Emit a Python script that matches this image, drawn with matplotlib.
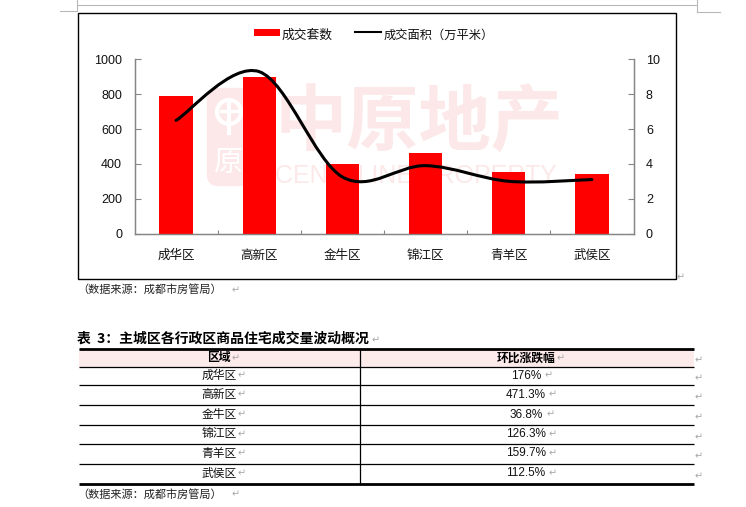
import numpy as np
import matplotlib
matplotlib.use("Agg")
import matplotlib.pyplot as plt
from matplotlib.path import Path
from matplotlib.patches import PathPatch, FancyBboxPatch, Rectangle, Circle

plt.rcParams['font.family'] = ['Liberation Sans', 'Noto Sans CJK SC', 'DejaVu Sans']

districts = ['成华区', '高新区', '金牛区', '锦江区', '青羊区', '武侯区']
units_sold = [790, 900, 400, 460, 355, 340]
area_sold = [6.5, 9.3, 3.25, 3.9, 3.0, 3.1]
y_left_ticks = [0, 200, 400, 600, 800, 1000]
y_right_ticks = [0, 2, 4, 6, 8, 10]
table_title = '表  3：主城区各行政区商品住宅成交量波动概况'
table_header = ['区域', '环比涨跌幅']
table_change = ['176%', '471.3%', '36.8%', '126.3%', '159.7%', '112.5%']
source_note = '（数据来源：成都市房管局）'
legend_bar = '成交套数'
legend_line = '成交面积（万平米）'
watermark_cn = '中原地产'
watermark_en = 'CENTALINE PROPERTY'

W, H = 746, 507
fig = plt.figure(figsize=(W / 100, H / 100), dpi=100, facecolor='white')

page = fig.add_axes([0, 0, 1, 1], zorder=0)
page.set_xlim(0, W)
page.set_ylim(H, 0)
page.axis('off')

RET = dict(color='#a8a8a8', fontsize=7, family='DejaVu Sans', va='center', ha='left')
GREY = '#b8b8b8'
CJK = 'Noto Sans CJK SC'

# page-corner marks
page.plot([76.5, 76.5], [0, 11], color=GREY, lw=0.8)
page.plot([60, 76.5], [11, 11], color=GREY, lw=0.8)
page.plot([76.5, 696], [4.5, 4.5], color=GREY, lw=0.8)
page.plot([696.5, 696.5], [0, 12], color=GREY, lw=0.8)
page.plot([696.5, 720], [12, 12], color=GREY, lw=0.8)

# chart frame
page.add_patch(Rectangle((77.5, 12.5), 598, 266, fc='white', ec='black', lw=1.0, zorder=1))

# watermark
WM = '#fce8e8'
page.add_patch(FancyBboxPatch((211, 92), 56, 90, boxstyle='round,pad=0,rounding_size=7',
                              fc=WM, ec=WM, lw=6, zorder=2))
page.add_patch(Circle((229, 112), 12, fc='none', ec='white', lw=3, zorder=3))
page.plot([229, 229], [100, 133], color='white', lw=3, zorder=3)
page.plot([221, 237], [111, 111], color='white', lw=2.5, zorder=3)
page.text(229, 163, '原', color='white', fontsize=21, ha='center', va='center',
          family=CJK, zorder=3)
page.text(419.5, 124, watermark_cn, color=WM, fontsize=52, fontweight='bold', ha='center', va='center',
          family=CJK, zorder=2)
page.text(416, 176, watermark_en, color=WM, fontsize=18, ha='center', va='center',
          family='Liberation Sans', zorder=2)

# chart axes
L, R, T, B = 134.5, 633.5, 59.5, 233.5
ax = fig.add_axes([L / W, 1 - B / H, (R - L) / W, (B - T) / H], zorder=2)
ax.patch.set_alpha(0)
x = np.arange(len(districts))
bars = ax.bar(x, units_sold, width=0.4, color='#ff0000', label=legend_bar, zorder=3)
ax.set_xlim(-0.5, len(districts) - 0.5)
ax.set_ylim(0, 1000)
ax.set_yticks(y_left_ticks)
ax.set_xticks(x[:-1] + 0.5)
ax.set_xticklabels([])
ax.tick_params(axis='x', direction='in', length=3, width=0.8, color='#868686')
ax.tick_params(axis='y', direction='in', length=4, width=0.8, color='#868686', labelsize=9, pad=9, labelcolor='#111111')
for s in ax.spines.values():
    s.set_color('#868686')
    s.set_linewidth(0.9)
ax.spines['top'].set_visible(False)
for xi, name in zip(x, districts):
    ax.annotate(name, (xi, 0), xytext=(0, -16), textcoords='offset points', xycoords='data',
                ha='center', va='center', fontsize=9, family=CJK, color='#111111')

ax2 = ax.twinx()
ax2.patch.set_alpha(0)
ax2.set_ylim(0, 10)
ax2.set_yticks(y_right_ticks)
ax2.tick_params(axis='y', direction='in', length=4, width=0.8, color='#868686', labelsize=9, pad=9, labelcolor='#111111')
for s in ax2.spines.values():
    s.set_color('#868686')
    s.set_linewidth(0.9)
ax2.spines['top'].set_visible(False)

# smoothed line (Catmull-Rom style Bezier through the data points)
pts = np.column_stack([x, area_sold]).astype(float)
verts = [pts[0]]
codes = [Path.MOVETO]
for i in range(len(pts) - 1):
    p0 = pts[max(i - 1, 0)]
    p1, p2 = pts[i], pts[i + 1]
    p3 = pts[min(i + 2, len(pts) - 1)]
    verts += [p1 + (p2 - p0) / 6, p2 - (p3 - p1) / 6, p2]
    codes += [Path.CURVE4] * 3
ax2.add_patch(PathPatch(Path(verts, codes), fc='none', ec='black', lw=2.2, capstyle='round', zorder=5))

# legend drawn on page
page.add_patch(Rectangle((254, 29), 26, 6.5, fc='#ff0000', ec='none', zorder=2))
page.plot([354.5, 381], [31.5, 31.5], color='black', lw=1.5, zorder=2)
page.text(282, 35, legend_bar, fontsize=9.2, family=CJK, va='center', ha='left', color='#111111', zorder=2)
page.text(384, 35, legend_line, fontsize=8.8, family=CJK, va='center', ha='left', color='#111111', zorder=2)
page.text(677, 277.5, '↵', **RET)

# source notes
page.text(77, 289.5, source_note, fontsize=8, family=CJK, va='center', ha='left', color='#222222')
page.text(232, 290, '↵', **RET)
page.text(77, 494, source_note, fontsize=8, family=CJK, va='center', ha='left', color='#222222')
page.text(232, 494.5, '↵', **RET)

# table
page.text(77, 339, table_title, fontsize=10, fontweight='bold', family=CJK, va='center', ha='left', color='black')
page.text(372, 340, '↵', **RET)

row_y = [349, 367, 384.5, 404.5, 424.5, 443.5, 463.5, 483.5]
x0, xm, x1 = 79, 359.5, 693.5
page.add_patch(Rectangle((x0, row_y[0]), x1 - x0, row_y[1] - row_y[0], fc='#fdeaea', ec='none'))
page.plot([xm, xm], [row_y[0], row_y[-1]], color='black', lw=0.9)
for i, y in enumerate(row_y):
    lw = 2.0 if i in (0, len(row_y) - 1) else 0.9
    page.plot([x0, x1], [y, y], color='black', lw=lw, solid_capstyle='butt')

cx1, cx2 = 219, 526
page.text(cx1, 358, table_header[0], fontsize=8.5, fontweight='bold', family=CJK, ha='center', va='center', color='black')
page.text(cx1 + 13, 358.5, '↵', **RET)
page.text(cx2, 358, table_header[1], fontsize=8.5, fontweight='bold', family=CJK, ha='center', va='center', color='black')
page.text(cx2 + 31, 358.5, '↵', **RET)
page.text(x1 + 1, 360, '↵', **RET)
for i, (name, val) in enumerate(zip(districts, table_change)):
    yc = (row_y[i + 1] + row_y[i + 2]) / 2
    page.text(cx1, yc, name, fontsize=8.5, family=CJK, ha='center', va='center', color='#111111')
    page.text(cx1 + 19, yc, '↵', **RET)
    page.text(cx2, yc, val, fontsize=8.5, family='Liberation Sans', ha='center', va='center', color='#111111')
    page.text(cx2 + 11 + 2.0 * len(val), yc, '↵', **RET)
    page.text(x1 + 1, yc + 3, '↵', **RET)

fig.savefig('out.png', dpi=100, facecolor='white')
